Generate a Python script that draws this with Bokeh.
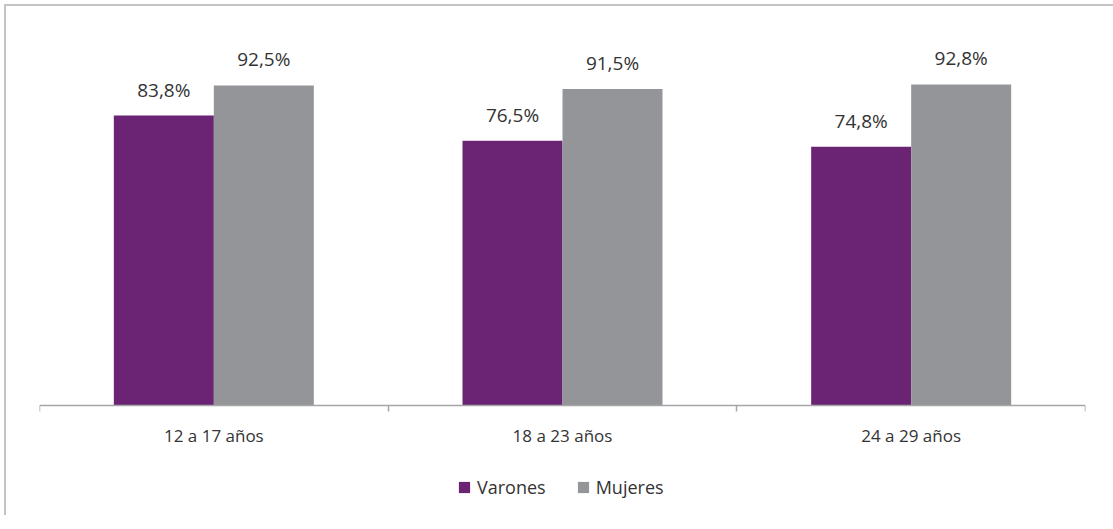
import numpy as np
from bokeh.plotting import figure
from bokeh.models import (Range1d, LinearAxis, FixedTicker, Legend, LegendItem, ColumnDataSource)
from bokeh.core.properties import value
from bokeh.embed import file_html
from bokeh.resources import INLINE

categories = ["12 a 17 años", "18 a 23 años", "24 a 29 años"]
varones = [83.8, 76.5, 74.8]
mujeres = [92.5, 91.5, 92.8]
series_names = ["Varones", "Mujeres"]
colors = ["#6b2474", "#939598"]

def fmt(v):
    return f"{v:.1f}%".replace(".", ",")

n = len(categories)
centers = np.arange(n) + 0.5
bw = 0.2868
off = bw / 2

src = ColumnDataSource(dict(
    xv=centers - off,
    xm=centers + off,
    varones=varones,
    mujeres=mujeres,
    lab_v=[fmt(v) for v in varones],
    lab_m=[fmt(v) for v in mujeres],
))

FONT = "Open Sans"
TXT = "#333333"
AX = "#a6a6a6"

p = figure(frame_width=1046, frame_height=485, x_range=Range1d(0, n),
           y_range=Range1d(-31.79, 108.38), output_backend="svg", toolbar_location=None,
           x_axis_location=None, y_axis_location=None,
           min_border_left=33, min_border_right=28, min_border_top=24, min_border_bottom=0,
           styles={"border-left": "2px solid #c4c4c4", "border-top": "2px solid #c4c4c4",
                   "margin-left": "4px", "margin-top": "4px"})
p.xgrid.grid_line_color = None
p.ygrid.grid_line_color = None
p.outline_line_color = None

r1 = p.vbar(x="xv", top="varones", width=bw, source=src, fill_color=colors[0], line_color=None)
r2 = p.vbar(x="xm", top="mujeres", width=bw, source=src, fill_color=colors[1], line_color=None)

for xc, col, lab in [("xv", "varones", "lab_v"), ("xm", "mujeres", "lab_m")]:
    p.text(x=xc, y=col, text=lab, source=src,
           text_align="center", text_baseline="alphabetic", y_offset=-26,
           text_font=value(FONT), text_font_size="19px", text_color=TXT)

axis = LinearAxis(ticker=FixedTicker(ticks=list(centers), minor_ticks=list(range(n + 1))),
                  major_label_overrides={float(c): lab for c, lab in zip(centers, categories)},
                  fixed_location=0,
                  axis_line_color=AX, axis_line_width=1.5,
                  major_tick_line_color=None,
                  minor_tick_line_color=AX, minor_tick_line_width=1.5,
                  minor_tick_in=0, minor_tick_out=6,
                  major_label_standoff=12,
                  major_label_text_font_size="17px", major_label_text_font=FONT,
                  major_label_text_color=TXT)
p.add_layout(axis, "below")

legend = Legend(items=[LegendItem(label=series_names[0], renderers=[r1]),
                       LegendItem(label=series_names[1], renderers=[r2])],
                orientation="horizontal", location=(418, 16), glyph_width=14, glyph_height=14,
                label_standoff=6, spacing=30, border_line_color=None, background_fill_alpha=0,
                label_text_font_size="18px", label_text_font=FONT, label_text_color=TXT,
                padding=0, margin=0, label_height=20)
p.add_layout(legend, "center")

open("out.html", "w").write(file_html(p, INLINE))
